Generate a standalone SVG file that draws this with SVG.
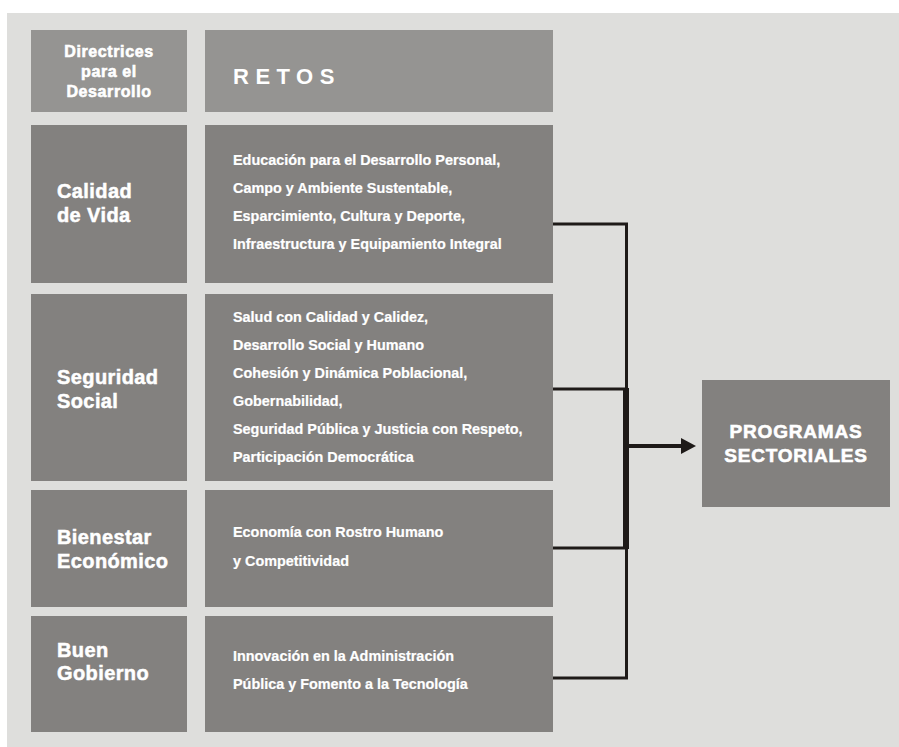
<svg xmlns="http://www.w3.org/2000/svg" width="899" height="747" viewBox="0 0 899 747">
<style>
.bg{fill:#dededc}
.hd{fill:#959492}
.bx{fill:#83817f}
text{font-family:"Liberation Sans",Arial,Helvetica,sans-serif;font-weight:bold;fill:#ffffff}
.h{font-size:16px;letter-spacing:0.6px;text-anchor:middle;stroke:#ffffff;stroke-width:0.6px}
.retos{font-size:22px;letter-spacing:6.5px}
.lbl{font-size:20px;letter-spacing:0.4px;stroke:#ffffff;stroke-width:0.5px}
.rt{font-size:14.4px;stroke:#ffffff;stroke-width:0.2px}
.pg{font-size:19px;letter-spacing:0.8px;text-anchor:middle;stroke:#ffffff;stroke-width:0.6px}
.ln{fill:none;stroke:#1e1a18;stroke-width:3}
</style>
<defs>
<marker id="ah" markerUnits="userSpaceOnUse" markerWidth="16" markerHeight="17" refX="1" refY="8" orient="auto">
<path d="M0,0 L15,8 L0,16 z" fill="#1e1a18"/>
</marker>
</defs>
<rect class="bg" x="7" y="13" width="892" height="734"/>
<g id="header-directrices">
<rect class="hd" x="31" y="30" width="156" height="82"/>
<text class="h" x="109" y="57">Directrices</text>
<text class="h" x="109" y="77">para el</text>
<text class="h" x="109" y="97">Desarrollo</text>
</g>
<g id="header-retos">
<rect class="hd" x="205" y="30" width="348" height="82"/>
<text class="retos" x="233" y="84">RETOS</text>
</g>
<g id="calidad-de-vida">
<rect class="bx" x="31" y="125" width="156" height="158"/>
<text class="lbl" x="57" y="198">Calidad</text>
<text class="lbl" x="57" y="222">de Vida</text>
</g>
<g id="retos-calidad">
<rect class="bx" x="205" y="125" width="348" height="158"/>
<text class="rt" x="233" y="165">Educación para el Desarrollo Personal,</text>
<text class="rt" x="233" y="193">Campo y Ambiente Sustentable,</text>
<text class="rt" x="233" y="221">Esparcimiento, Cultura y Deporte,</text>
<text class="rt" x="233" y="249">Infraestructura y Equipamiento Integral</text>
</g>
<g id="seguridad-social">
<rect class="bx" x="31" y="294" width="156" height="187"/>
<text class="lbl" x="57" y="384">Seguridad</text>
<text class="lbl" x="57" y="408">Social</text>
</g>
<g id="retos-seguridad">
<rect class="bx" x="205" y="294" width="348" height="187"/>
<text class="rt" x="233" y="322">Salud con Calidad y Calidez,</text>
<text class="rt" x="233" y="350">Desarrollo Social y Humano</text>
<text class="rt" x="233" y="378">Cohesión y Dinámica Poblacional,</text>
<text class="rt" x="233" y="406">Gobernabilidad,</text>
<text class="rt" x="233" y="434">Seguridad Pública y Justicia con Respeto,</text>
<text class="rt" x="233" y="462">Participación Democrática</text>
</g>
<g id="bienestar-economico">
<rect class="bx" x="31" y="490" width="156" height="117"/>
<text class="lbl" x="57" y="544">Bienestar</text>
<text class="lbl" x="57" y="568">Económico</text>
</g>
<g id="retos-bienestar">
<rect class="bx" x="205" y="490" width="348" height="117"/>
<text class="rt" x="233" y="537">Economía con Rostro Humano</text>
<text class="rt" x="233" y="566">y Competitividad</text>
</g>
<g id="buen-gobierno">
<rect class="bx" x="31" y="616" width="156" height="116"/>
<text class="lbl" x="57" y="657">Buen</text>
<text class="lbl" x="57" y="680">Gobierno</text>
</g>
<g id="retos-gobierno">
<rect class="bx" x="205" y="616" width="348" height="116"/>
<text class="rt" x="233" y="661">Innovación en la Administración</text>
<text class="rt" x="233" y="689">Pública y Fomento a la Tecnología</text>
</g>
<g id="programas-sectoriales">
<rect class="bx" x="702" y="380" width="188" height="127"/>
<text class="pg" x="796" y="438">PROGRAMAS</text>
<text class="pg" x="796" y="462">SECTORIALES</text>
</g>
<g id="connectors">
<path class="ln" d="M553,224 H626.5 V678 H553"/>
<path class="ln" d="M553,389 H626"/>
<path class="ln" d="M553,548 H626"/>
<path class="ln" style="stroke-width:6" d="M626,388 V549"/>
<path class="ln" style="stroke-width:4" d="M628,446 H682" marker-end="url(#ah)"/>
</g>
</svg>
